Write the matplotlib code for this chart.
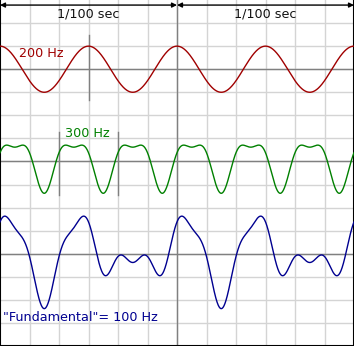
import matplotlib

matplotlib.use("Agg")
import matplotlib.pyplot as plt
import numpy as np

# Time span: two periods of the 100 Hz fundamental (seconds)
t_end = 0.02
grid_dt = 1 / 600          # vertical grid step
n_rows = 15                # horizontal grid rows

# Partial waves: cosine components (frequency Hz, amplitude, phase rad)
red_freqs = [200]
red_amps = [1.0]
red_phases = [0.0]

green_freqs = [300, 600]
green_amps = [1.0, 0.38]
green_phases = [-np.pi / 2, 0.0]

# Baselines for the three traces (grid rows from bottom)
baselines = [12, 8, 4]
labels = ["200 Hz", "300 Hz", '"Fundamental"= 100 Hz']
colors = ["#a00000", "#008000", "#000090"]

# Period markers: (time, bottom, top)
red_marks = [(0.005, 10.67, 13.48)]
green_marks = [(1 / 300, 6.55, 9.29), (2 / 300, 6.55, 9.29)]


def wave(t, freqs, amps, phases):
    return sum(a * np.cos(2 * np.pi * f * t + p)
               for f, a, p in zip(freqs, amps, phases))


t = np.linspace(0, t_end, 2000)
red = wave(t, red_freqs, red_amps, red_phases)
green = wave(t, green_freqs, green_amps, green_phases)
blue = red + green

fig = plt.figure(figsize=(3.54, 3.46), dpi=100)
ax = fig.add_axes([0, 0, 1, 1])
ax.set_xlim(0, t_end)
ax.set_ylim(0, n_rows)
ax.set_xticks([])
ax.set_yticks([])
ax.spines["top"].set_visible(False)
for s in ("left", "right", "bottom"):
    ax.spines[s].set_color("black")
    ax.spines[s].set_linewidth(1.5)

# light grid
for k in range(1, 12):
    ax.axvline(k * grid_dt, color="#d4d4d4", lw=1, zorder=0)
for k in range(1, n_rows):
    ax.axhline(k, color="#d4d4d4", lw=1, zorder=0)

# zero lines and centre divider
for b in baselines:
    ax.axhline(b, color="#808080", lw=1, zorder=1)
ax.axvline(t_end / 2, color="#808080", lw=1, zorder=1)
for x, y0, y1 in red_marks + green_marks:
    ax.plot([x, x], [y0, y1], color="#808080", lw=1, zorder=1)

for y, b, c in zip([red, green, blue], baselines, colors):
    ax.plot(t, b + y, color=c, lw=1.0, zorder=3)

# 1/100 sec span arrows
for x0 in (0, t_end / 2):
    ax.annotate("", xy=(x0, 14.78), xytext=(x0 + t_end / 2, 14.78),
                arrowprops=dict(arrowstyle="<|-|>", mutation_scale=7,
                                lw=1, color="black", shrinkA=0, shrinkB=0),
                zorder=4)
    ax.text(x0 + t_end / 4, 14.38, "1/100 sec", ha="center", va="center",
            fontsize=9.2, color="#111111")

ax.text(0.00107, 12.7, labels[0], ha="left", va="center",
        fontsize=9.2, color=colors[0])
ax.text(0.00367, 9.23, labels[1], ha="left", va="center",
        fontsize=9.2, color=colors[1])
ax.text(0.00017, 1.22, labels[2], ha="left", va="center",
        fontsize=9.2, color=colors[2])

fig.savefig("out.png", dpi=100)
